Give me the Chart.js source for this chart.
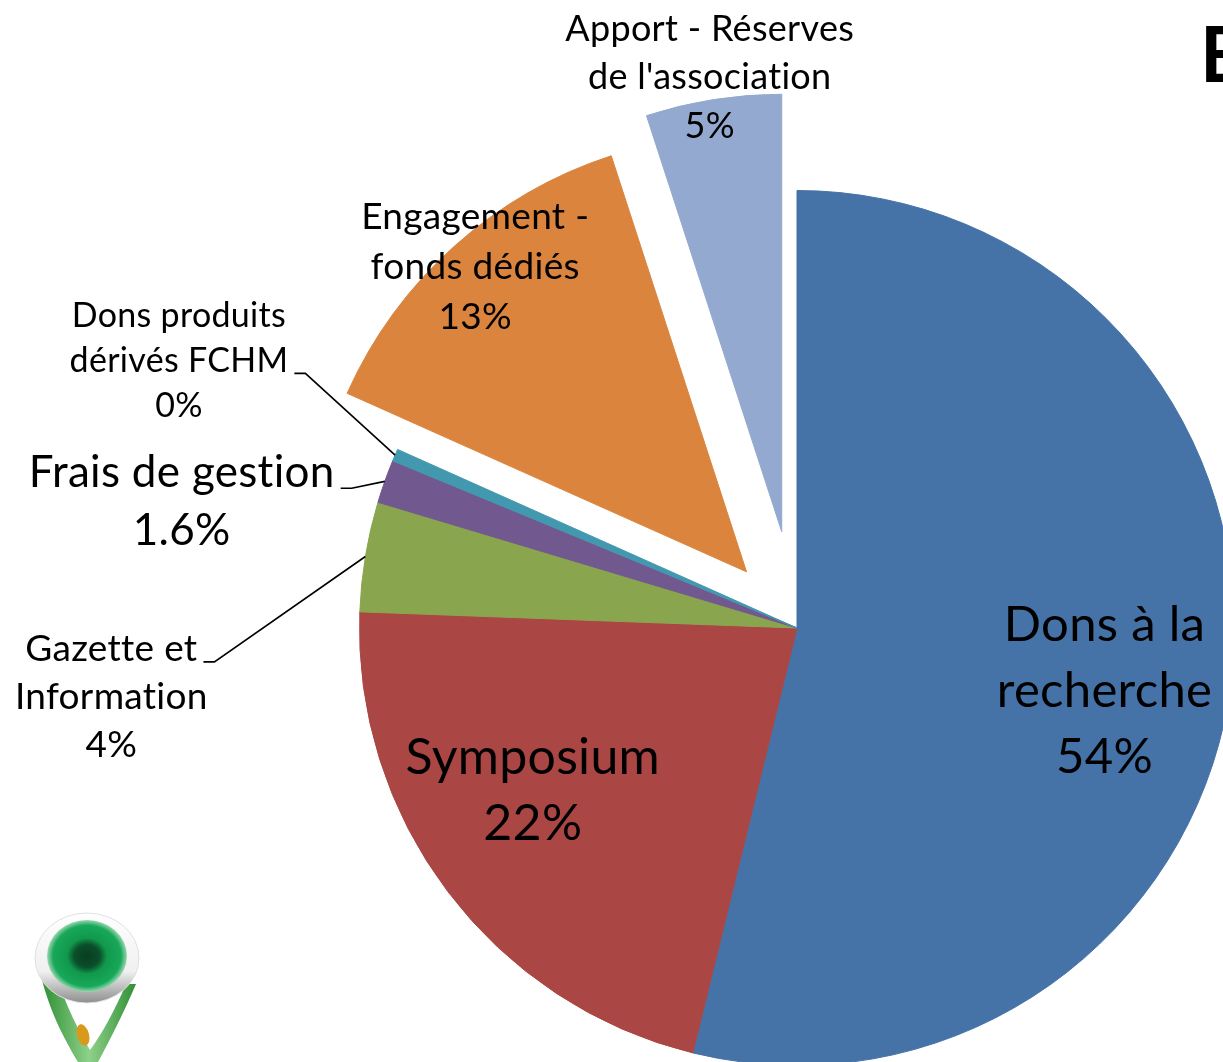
<!DOCTYPE html>
<html>
<head>
<meta charset="utf-8">
<script src="https://cdn.jsdelivr.net/npm/chart.js@4/dist/chart.umd.min.js"></script>
<style>
  html, body { margin: 0; padding: 0; background: #fff; }
  #page { position: relative; width: 1223px; height: 1062px; overflow: hidden; background: #fff; }
  #box { position: absolute; left: 0; top: 0; width: 1594px; height: 1256px; }
  #logo { position: absolute; left: 0; top: 880px; }
</style>
</head>
<body>
<div id="page">
  <div id="box"><canvas id="pieChart"></canvas></div>
  <svg id="logo" width="180" height="182" viewBox="0 0 180 182">
    <defs>
      <radialGradient id="eye" cx="50%" cy="50%" r="50%">
        <stop offset="0" stop-color="#083d21"/>
        <stop offset="0.32" stop-color="#0b4f2b"/>
        <stop offset="0.5" stop-color="#11994c"/>
        <stop offset="0.85" stop-color="#18a85a"/>
        <stop offset="1" stop-color="#9ad8b0"/>
      </radialGradient>
      <linearGradient id="ring" x1="0" y1="0" x2="0" y2="1">
        <stop offset="0" stop-color="#ffffff"/>
        <stop offset="0.65" stop-color="#f0f0f0"/>
        <stop offset="1" stop-color="#8e8e8e"/>
      </linearGradient>
      <linearGradient id="stem" x1="0" y1="0" x2="1" y2="0">
        <stop offset="0" stop-color="#2f8f35"/>
        <stop offset="0.5" stop-color="#8fd18a"/>
        <stop offset="1" stop-color="#2f8f35"/>
      </linearGradient>
    </defs>
    <path d="M42 100 C52 138 68 165 78 182 L98 182 C110 160 124 132 136 104 L126 104 C115 130 102 154 90 170 C80 152 66 128 58 98 Z" fill="url(#stem)"/>
    <ellipse cx="87" cy="78" rx="52" ry="45" fill="url(#ring)" stroke="#e0e0e0"/>
    <ellipse cx="87" cy="76" rx="40" ry="36" fill="url(#eye)"/>
    <ellipse cx="83" cy="155" rx="6" ry="11" transform="rotate(-15 83 155)" fill="#d8991c"/>
  </svg>
</div>
<script>
// categories (one entry per slice, split on lines as in the picture)
const categories = [
  ['Dons à la', 'recherche'],
  ['Symposium'],
  ['Gazette et', 'Information'],
  ['Frais de gestion'],
  ['Dons produits', 'dérivés FCHM'],
  ['Engagement -', 'fonds dédiés'],
  ['Apport - Réserves', "de l'association"]
];
const shares = [53.8, 21.75, 4.05, 1.6, 0.45, 13.3, 5.0];   // % of total
const pctDecimals = [0, 0, 0, 1, 0, 0, 0];
const sliceColors = ['#4572A7', '#AA4643', '#89A54E', '#71588F', '#4198AF', '#DB843D', '#93A9CF'];
const explodePx = [0, 0, 0, 0, 0, 75.5, 97.5];

// label placement: radius factor + angle shift (deg) from the slice middle
const labelLayout = [
  { r: 0.717, shift: 4.5,   size: 49, lh: 66 },
  { r: 0.708, shift: 5.6,   size: 50, lh: 66 },
  { r: 1.575, shift: -15.1, size: 37, lh: 48, leader: 0 },
  { r: 1.436, shift: -7.95, size: 44, lh: 58, leader: 0 },
  { r: 1.539, shift: 0.1,   size: 34, lh: 45, leader: 1 },
  { r: 0.933, shift: 0.3,   size: 37, lh: 50 },
  { r: 1.052, shift: 0,     size: 36, lh: 48.5 }
];

const FONT = 'Lato, "Open Sans", sans-serif';

// pull exploded slices out along their middle angle (radius kept as is)
const explodeSlices = {
  id: 'explodeSlices',
  afterDatasetsUpdate(chart) {
    chart.getDatasetMeta(0).data.forEach((arc, i) => {
      const d = explodePx[i] || 0;
      if (!d) return;
      const mid = (arc.startAngle + arc.endAngle) / 2;
      arc.x += Math.cos(mid) * d;
      arc.y += Math.sin(mid) * d;
    });
  }
};

const sliceLabels = {
  id: 'sliceLabels',
  afterDatasetsDraw(chart) {
    const ctx = chart.ctx;
    const meta = chart.getDatasetMeta(0);
    const total = shares.reduce((a, b) => a + b, 0);
    ctx.save();
    ctx.fillStyle = '#000';
    ctx.strokeStyle = '#000';
    ctx.textAlign = 'center';
    ctx.textBaseline = 'alphabetic';
    ctx.letterSpacing = '0.3px';
    meta.data.forEach((arc, i) => {
      const p = arc.getProps(['x', 'y', 'startAngle', 'endAngle', 'outerRadius'], true);
      const mid = (p.startAngle + p.endAngle) / 2;
      const L = labelLayout[i];
      const a = mid + L.shift * Math.PI / 180;
      const bx = p.x + Math.cos(a) * p.outerRadius * L.r;
      const by = p.y + Math.sin(a) * p.outerRadius * L.r;
      const pct = (shares[i] / total * 100).toFixed(pctDecimals[i]) + '%';
      const lines = categories[i].concat([pct]);
      ctx.font = L.size + 'px ' + FONT;
      const n = lines.length;
      const baseY = k => by + (k - (n - 1) / 2) * L.lh + 0.34 * L.size;
      lines.forEach((t, k) => ctx.fillText(t, bx, baseY(k)));
      if (L.leader !== undefined) {
        const w = ctx.measureText(lines[L.leader]).width;
        const sx = bx + w / 2 + 6;
        const sy = baseY(L.leader) + 1;
        ctx.lineWidth = 1.6;
        ctx.beginPath();
        ctx.moveTo(sx, sy);
        ctx.lineTo(sx + 11, sy);
        ctx.lineTo(p.x + Math.cos(mid) * p.outerRadius, p.y + Math.sin(mid) * p.outerRadius);
        ctx.stroke();
      }
    });
    // title: only its first letter falls inside the picture
    ctx.letterSpacing = '0px';
    ctx.textAlign = 'left';
    ctx.font = 'bold 76px ' + FONT;
    ctx.fillText('E', 1200, 82);
    ctx.restore();
  }
};

new Chart(document.getElementById('pieChart'), {
  type: 'pie',
  data: {
    labels: categories.map(c => c.join(' ')),
    datasets: [{
      data: shares,
      backgroundColor: sliceColors,
      borderColor: sliceColors,
      borderWidth: 1
    }]
  },
  options: {
    responsive: true,
    maintainAspectRatio: false,
    animation: false,
    events: [],
    radius: 437.5,
    layout: { padding: 0 },
    plugins: {
      legend: { display: false },
      tooltip: { enabled: false }
    }
  },
  plugins: [explodeSlices, sliceLabels]
});
</script>
</body>
</html>
